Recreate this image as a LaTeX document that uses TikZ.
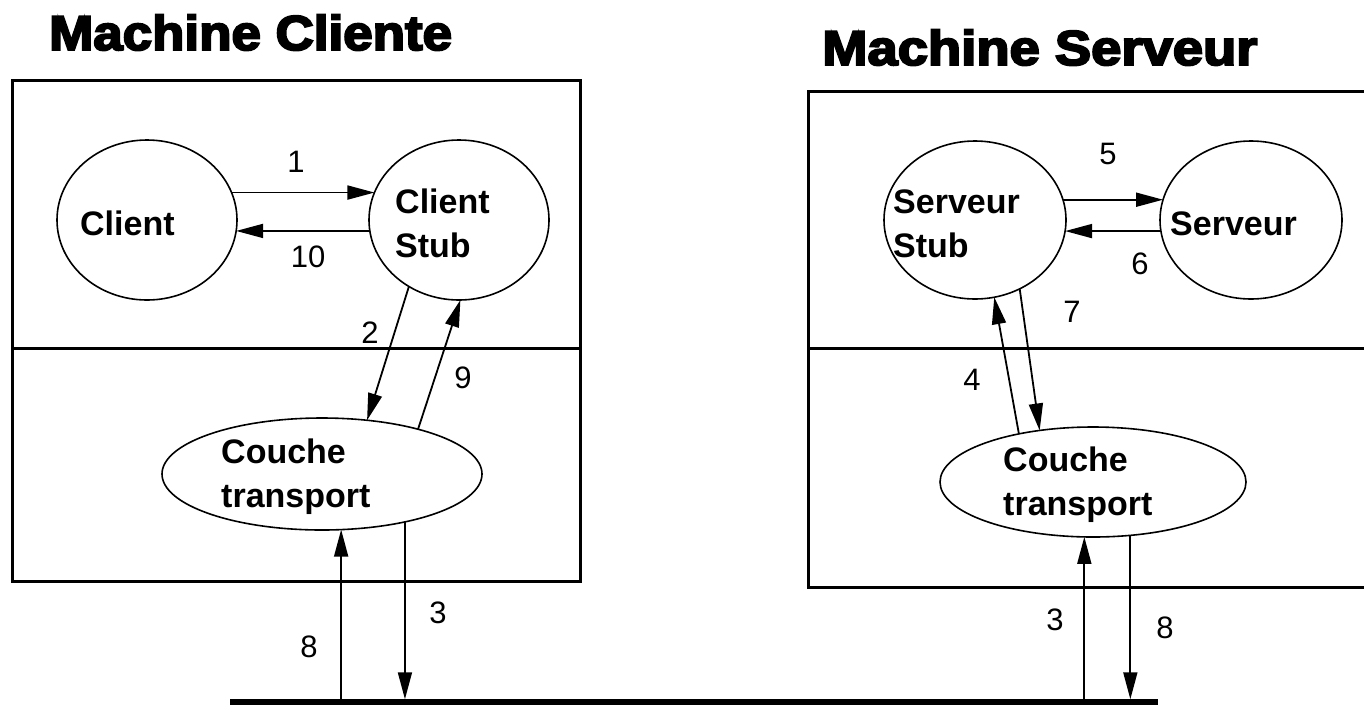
\documentclass[tikz,border=0pt]{standalone}
\usepackage{fontspec}
\setmainfont{Liberation Sans}
\newfontfamily\titlefont[BoldFeatures={FakeBold=4}]{Liberation Sans}
\usepackage{graphicx}
\usetikzlibrary{shapes.geometric,arrows.meta}

\begin{document}
\begin{tikzpicture}[x=1pt,y=-1pt,
  machine/.style={line width=3pt},
  proc/.style={ellipse,draw,line width=1.6pt,inner sep=0pt,outer sep=0pt},
  lbl/.style={font=\fontsize{34}{44}\selectfont\bfseries,inner sep=0pt,align=left},
  num/.style={font=\fontsize{31}{31}\selectfont,inner sep=0pt},
  msg/.style={line width=1.8pt,-{Triangle[length=27pt,width=14pt]}},
  title/.style={font=\fontsize{49}{49}\titlefont\bfseries,inner sep=0pt}
]
\useasboundingbox (0,0) rectangle (1364,705);

% titles
\node[title,anchor=base west] (tC) at (49,50) {\scalebox{1.08}[1]{Machine Cliente}};
\node[title,anchor=base west] (tS) at (822,65) {\scalebox{1.11}[1]{Machine Serveur}};

% machine frames, split into application and transport layers
\draw[machine] (12,80) rectangle (580,581);
\draw[machine] (12,348) -- (580,348);
\draw[machine] (1372,91) -- (808,91) -- (808,587) -- (1372,587);
\draw[machine] (808,348) -- (1372,348);

% processes
\node[proc,minimum width=180,minimum height=160] (cl) at (147,220) {};
\node[proc,minimum width=180,minimum height=160] (cs) at (459,220) {};
\node[proc,minimum width=320,minimum height=112] (tl) at (322,474) {};
\node[proc,minimum width=182,minimum height=158] (ss) at (975,220) {};
\node[proc,minimum width=182,minimum height=158] (sv) at (1251,220) {};
\node[proc,minimum width=306,minimum height=110] (tr) at (1093,482) {};

% process names
\node[lbl,anchor=base west] (clT) at (80,235) {Client};
\node[lbl,anchor=north west] (csT) at (395,189) {Client\\Stub};
\node[lbl,anchor=north west] (ssT) at (893,190) {Serveur\\Stub};
\node[lbl,anchor=base west] (svT) at (1170,235) {Serveur};
\node[lbl,anchor=north west] (tlT) at (221,439) {Couche\\transport};
\node[lbl,anchor=north west] (trT) at (1003,447) {Couche\\transport};

% network bus
\node[fill=black,minimum width=928,minimum height=5.5,inner sep=0pt,outer sep=0pt] (bus) at (693.5,702) {};

% client side messages
\draw[msg] (cl.18) -- (cs.162);
\draw[msg] (cs.187) -- (cl.-7);
\draw[msg] (cs.233) -- (tl.50);
\draw[msg] (tl.25) -- (cs.271);
\draw[msg] (tl.-30) -- (tl.-30 |- bus.north);
\draw[msg] (tl.-71 |- bus.north) -- (tl.-71);

% server side messages
\draw[msg] (tr.-99 |- bus.north) -- (tr.-99);
\draw[msg] (tr.147) -- (ss.-76);
\draw[msg] (ss.13) -- (sv.167);
\draw[msg] (sv.187) -- (ss.-7);
\draw[msg] (ss.-57) -- (tr.136);
\draw[msg] (tr.-55) -- (tr.-55 |- bus.north);

% step numbers
\node[num] (n1) at (296,162) {1};
\node[num] (n2) at (370,333) {2};
\node[num] (n3a) at (438,613) {3};
\node[num] (n4) at (972,380) {4};
\node[num] (n5) at (1108,154) {5};
\node[num] (n6) at (1140,264) {6};
\node[num] (n7) at (1072,312) {7};
\node[num] (n3b) at (1055,620) {3};
\node[num] (n8b) at (1165,628) {8};
\node[num] (n8a) at (309,647) {8};
\node[num] (n9) at (463,378) {9};
\node[num] (n10) at (308,257) {10};
\end{tikzpicture}
\end{document}
